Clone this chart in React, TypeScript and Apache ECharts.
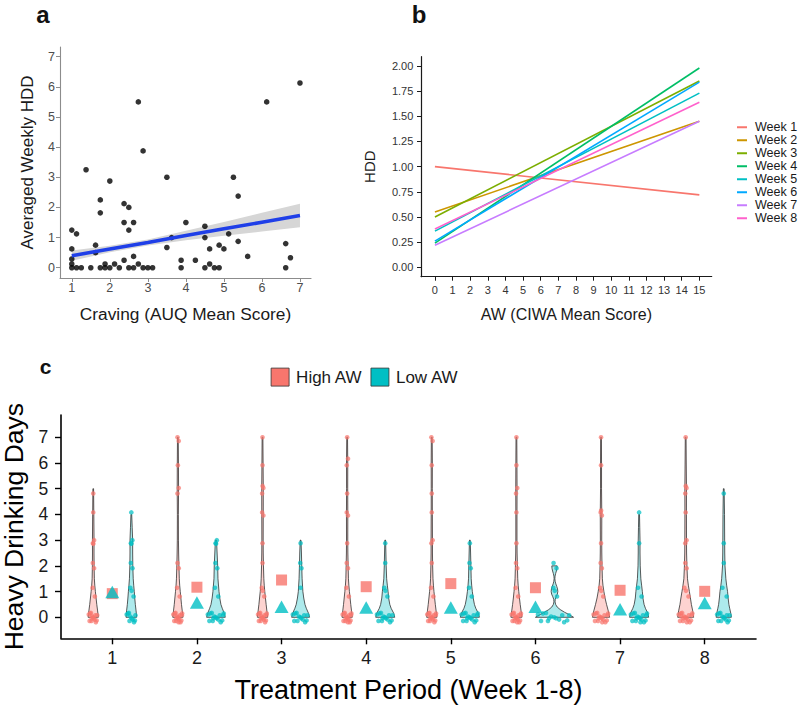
import React, { useEffect, useRef } from "react";
import * as echarts from "echarts";

const FONT = '"Liberation Sans", Arial, Helvetica, sans-serif';

// ---------- Panel a: craving vs averaged weekly HDD ----------
const cravingVsHDD: number[][] = [
  [1, 1.25], [1.125, 1.125], [1, 0.625], [1, 0.29], [1, 0.125], [1, 0], [1.125, 0], [1.25, 0],
  [1.5, 0], [1.375, 3.25], [1.625, 0.75], [1.625, 0.5], [1.75, 2.25], [1.75, 1.82], [1.75, 0],
  [1.875, 0.125], [1.875, 0], [2, 0], [2, 2.875], [2.125, 0.125], [2.25, 0], [2.375, 2.125],
  [2.5, 2], [2.375, 1.5], [2.625, 1.5], [2.5, 1.25], [2.375, 0.25], [2.625, 0.375], [2.75, 0.125],
  [2.5, 0], [2.625, 0], [2.75, 5.5], [2.875, 3.875], [2.875, 0], [3, 0], [3.125, 0], [3.5, 3],
  [3.5, 0.67], [3.625, 1], [3.875, 0.25], [3.875, 0], [4, 1.5], [4.25, 0.25], [4.5, 1.375],
  [4.5, 1], [4.5, 0], [4.625, 0.625], [4.625, 0.125], [4.75, 0], [4.875, 0], [4.875, 0.75],
  [5, 0.625], [5.125, 1.125], [5.25, 3], [5.375, 2.375], [5.375, 0.875], [5.625, 0.375],
  [6.125, 5.5], [6.625, 0.8], [6.625, 0], [6.75, 0.33], [7, 6.125],
];
const fitX = [1, 2, 3, 4, 5, 6, 7];
const fitY = [0.4, 0.62, 0.84, 1.07, 1.29, 1.51, 1.73];
const fitLower = [0.23, 0.51, 0.74, 0.91, 1.06, 1.2, 1.34];
const fitUpper = [0.57, 0.73, 0.94, 1.23, 1.52, 1.82, 2.12];
const axisATicksX = [1, 2, 3, 4, 5, 6, 7];
const axisATicksY = [0, 1, 2, 3, 4, 5, 6, 7];

// ---------- Panel b: HDD vs AW by week ----------
const weekNames = ["Week 1", "Week 2", "Week 3", "Week 4", "Week 5", "Week 6", "Week 7", "Week 8"];
const ciwaRange = [0, 15];
const hddAtAW0 = [1.0, 0.55, 0.5, 0.24, 0.36, 0.26, 0.22, 0.38];
const hddAtAW15 = [0.72, 1.45, 1.85, 1.98, 1.73, 1.84, 1.45, 1.64];
const axisBTicksX = [0, 1, 2, 3, 4, 5, 6, 7, 8, 9, 10, 11, 12, 13, 14, 15];
const axisBTicksY = [0, 0.25, 0.5, 0.75, 1, 1.25, 1.5, 1.75, 2];
const weekColors = ["#F8766D", "#CD9600", "#7CAE00", "#00BE67", "#00BFC4", "#00A9FF", "#C77CFF", "#FF61CC"];

// ---------- Panel c: violins of heavy drinking days ----------
const weeks = [1, 2, 3, 4, 5, 6, 7, 8];
// number of participants at HDD = 0,1,...,7
const highCounts = [
  [14, 2, 2, 3, 1, 1, 0, 0],
  [16, 2, 2, 0, 0, 2, 1, 2],
  [15, 3, 1, 1, 2, 3, 1, 1],
  [16, 2, 2, 1, 2, 1, 2, 1],
  [15, 2, 1, 2, 1, 1, 1, 2],
  [16, 2, 2, 1, 1, 2, 1, 1],
  [16, 3, 2, 1, 3, 0, 1, 1],
  [17, 3, 2, 2, 1, 3, 0, 1],
];
const lowCounts = [
  [10, 3, 2, 3, 1, 0, 0, 0],
  [15, 2, 2, 3, 0, 0, 0, 0],
  [13, 1, 2, 1, 0, 0, 0, 0],
  [14, 3, 1, 1, 0, 0, 0, 0],
  [15, 2, 2, 1, 0, 0, 0, 0],
  [14, 3, 2, 0, 0, 0, 0, 0],
  [16, 2, 0, 1, 1, 0, 0, 0],
  [13, 2, 1, 1, 0, 1, 0, 0],
];
const highMean = [0.92, 1.17, 1.45, 1.19, 1.31, 1.15, 1.05, 1.01];
const lowMean = [0.98, 0.58, 0.41, 0.38, 0.38, 0.41, 0.31, 0.56];
// violin outline: [HDD, relative density width]
const highViolin = [
  [[0, 0.27], [0.25, 0.23], [0.5, 0.185], [0.75, 0.148], [1, 0.112], [1.25, 0.08], [1.5, 0.058], [2, 0.045], [2.5, 0.04], [3, 0.042], [4, 0.03], [5, 0.018]],
  [[0, 0.27], [0.25, 0.23], [0.5, 0.19], [0.75, 0.158], [1, 0.125], [1.25, 0.095], [1.5, 0.075], [2, 0.055], [2.5, 0.04], [3, 0.03], [4, 0.026], [5, 0.036], [6, 0.03], [7, 0.02]],
  [[0, 0.27], [0.25, 0.23], [0.5, 0.19], [0.75, 0.155], [1, 0.12], [1.25, 0.09], [1.5, 0.07], [2, 0.05], [2.5, 0.038], [3, 0.034], [4, 0.038], [5, 0.04], [6, 0.03], [7, 0.02]],
  [[0, 0.27], [0.25, 0.23], [0.5, 0.19], [0.75, 0.155], [1, 0.12], [1.25, 0.09], [1.5, 0.068], [2, 0.052], [2.5, 0.038], [3, 0.033], [4, 0.036], [5, 0.03], [6, 0.032], [7, 0.02]],
  [[0, 0.27], [0.25, 0.228], [0.5, 0.186], [0.75, 0.15], [1, 0.115], [1.25, 0.086], [1.5, 0.064], [2, 0.046], [2.5, 0.036], [3, 0.036], [4, 0.03], [5, 0.028], [6, 0.03], [7, 0.022]],
  [[0, 0.29], [0.25, 0.245], [0.5, 0.2], [0.75, 0.16], [1, 0.125], [1.25, 0.092], [1.5, 0.07], [2, 0.052], [2.5, 0.036], [3, 0.03], [4, 0.03], [5, 0.034], [6, 0.028], [7, 0.02]],
  [[0, 0.45], [0.25, 0.38], [0.5, 0.29], [0.75, 0.21], [1, 0.15], [1.25, 0.1], [1.5, 0.07], [2, 0.052], [2.5, 0.04], [3, 0.036], [4, 0.04], [5, 0.026], [6, 0.026], [7, 0.02]],
  [[0, 0.42], [0.25, 0.37], [0.5, 0.3], [0.75, 0.25], [1, 0.195], [1.25, 0.14], [1.5, 0.095], [2, 0.065], [2.5, 0.048], [3, 0.044], [4, 0.04], [5, 0.042], [6, 0.03], [7, 0.02]],
];
const lowViolin = [
  [[0, 0.28], [0.25, 0.25], [0.5, 0.21], [0.75, 0.18], [1, 0.155], [1.25, 0.125], [1.5, 0.1], [2, 0.078], [2.5, 0.07], [3, 0.07], [3.5, 0.045], [4, 0.02]],
  [[0, 0.49], [0.15, 0.44], [0.35, 0.33], [0.5, 0.26], [0.75, 0.2], [1, 0.16], [1.5, 0.105], [2, 0.09], [2.5, 0.06], [3, 0.03]],
  [[0, 0.47], [0.15, 0.42], [0.35, 0.3], [0.5, 0.23], [0.75, 0.165], [1, 0.12], [1.5, 0.08], [2, 0.06], [2.5, 0.045], [3, 0.02]],
  [[0, 0.5], [0.15, 0.45], [0.35, 0.31], [0.5, 0.24], [0.75, 0.18], [1, 0.15], [1.25, 0.11], [1.5, 0.075], [2, 0.05], [2.5, 0.035], [3, 0.02]],
  [[0, 0.5], [0.15, 0.45], [0.35, 0.31], [0.5, 0.24], [0.75, 0.175], [1, 0.13], [1.25, 0.095], [1.5, 0.07], [2, 0.055], [2.5, 0.038], [3, 0.02]],
  [[0, 1], [0.1, 0.78], [0.2, 0.52], [0.3, 0.3], [0.4, 0.14], [0.5, 0.06], [0.6, 0.03], [0.7, 0.04], [0.8, 0.09], [0.9, 0.15], [1, 0.175], [1.1, 0.16], [1.2, 0.12], [1.3, 0.07], [1.4, 0.035], [1.5, 0.02], [1.6, 0.03], [1.7, 0.06], [1.8, 0.1], [1.9, 0.13], [2, 0.14]],
  [[0, 0.5], [0.15, 0.46], [0.35, 0.33], [0.5, 0.26], [0.75, 0.2], [1, 0.17], [1.25, 0.13], [1.5, 0.09], [2, 0.058], [2.5, 0.047], [3, 0.047], [3.5, 0.033], [4, 0.02]],
  [[0, 0.4], [0.15, 0.37], [0.35, 0.31], [0.5, 0.27], [0.75, 0.23], [1, 0.2], [1.25, 0.15], [1.5, 0.11], [2, 0.065], [2.5, 0.052], [3, 0.048], [4, 0.04], [5, 0.02]],
];
const axisCTicksY = [0, 1, 2, 3, 4, 5, 6, 7];

// ---------- helpers ----------
const HALF = 0.225; // half of a dodged violin's width (category units)
const DODGE = 0.225;
const JIT = [-0.14, 0.08, -0.04, 0.15, -0.19, 0.03, 0.11, -0.09, 0.17, -0.12, 0.0];

function widthAt(profile: number[][], y: number) {
  if (y <= profile[0][0]) return profile[0][1];
  for (let i = 1; i < profile.length; i++) {
    const [y1, w1] = profile[i];
    const [y0, w0] = profile[i - 1];
    if (y <= y1) return w0 + ((w1 - w0) * (y - y0)) / (y1 - y0);
  }
  return profile[profile.length - 1][1];
}

function buildPoints(counts: number[][], profiles: number[][][], offset: number) {
  const out: number[][] = [];
  weeks.forEach((wk, i) => {
    const c = wk + offset;
    counts[i].forEach((k, v) => {
      const hw = Math.max(widthAt(profiles[i], v) * HALF * 0.9, 0.012);
      for (let j = 0; j < k; j++) {
        const u = k === 1 ? 0 : (((j + 0.5) * 0.618034) % 1) * 2 - 1;
        const dy = JIT[(j + v * 3) % JIT.length];
        out.push([c + u * hw, v + dy]);
      }
    });
  });
  return out;
}

function violinSeries(name: string, profiles: number[][][], offset: number, fill: string) {
  return {
    type: "custom",
    name,
    xAxisIndex: 2,
    yAxisIndex: 2,
    silent: true,
    z: 2,
    itemStyle: { color: fill },
    data: weeks.map((w) => [w, 0]),
    encode: { x: 0, y: 1 },
    renderItem: (params: any, api: any) => {
      const prof = profiles[params.dataIndex];
      const c = api.value(0) + offset;
      const left = prof.map(([y, w]) => api.coord([c - w * HALF, y]));
      const right = prof
        .slice()
        .reverse()
        .map(([y, w]) => api.coord([c + w * HALF, y]));
      return {
        type: "polygon",
        shape: { points: left.concat(right) },
        style: { fill, stroke: "#262626", lineWidth: 0.75 },
      };
    },
  };
}

export default function App() {
  const ref = useRef<HTMLDivElement>(null);

  useEffect(() => {
    if (!ref.current) return;
    const chart = echarts.init(ref.current, undefined, { renderer: "svg" });

    const tickLabel = (size: number, color: string, margin: number, values: number[], fmt?: any) => ({
      customValues: values,
      fontSize: size,
      color,
      margin,
      fontFamily: FONT,
      ...(fmt ? { formatter: fmt } : {}),
    });

    const option: any = {
      animation: false,
      textStyle: { fontFamily: FONT },
      grid: [
        { left: 60, top: 47, width: 251, height: 231, containLabel: false, outerBoundsMode: "none" },
        { left: 421, top: 56.7, width: 290.7, height: 220, containLabel: false, outerBoundsMode: "none" },
        { left: 61, top: 415, width: 695, height: 223.3, containLabel: false, outerBoundsMode: "none" },
      ],
      xAxis: [
        {
          gridIndex: 0,
          type: "value",
          min: 0.69,
          max: 7.29,
          axisLine: { show: true, onZero: false, lineStyle: { color: "#8c8c8c", width: 1.1 } },
          axisTick: { show: true, length: 4, customValues: axisATicksX, lineStyle: { color: "#8c8c8c" } },
          axisLabel: tickLabel(12.5, "#4d4d4d", 3.5, axisATicksX),
          splitLine: { show: false },
          name: "Craving (AUQ Mean Score)",
          nameLocation: "middle",
          nameGap: 27,
          nameTextStyle: { fontSize: 17.3, color: "#1a1a1a", fontFamily: FONT },
        },
        {
          gridIndex: 1,
          type: "value",
          min: -0.79,
          max: 15.7,
          axisLine: { show: true, onZero: false, lineStyle: { color: "#1a1a1a", width: 1.2 } },
          axisTick: { show: true, length: 4, customValues: axisBTicksX, lineStyle: { color: "#1a1a1a" } },
          axisLabel: tickLabel(11, "#333333", 7.5, axisBTicksX),
          splitLine: { show: false },
          name: "AW (CIWA Mean Score)",
          nameLocation: "middle",
          nameGap: 30,
          nameTextStyle: { fontSize: 16, color: "#1a1a1a", fontFamily: FONT },
        },
        {
          gridIndex: 2,
          type: "value",
          min: 0.394,
          max: 8.606,
          axisLine: { show: true, onZero: false, lineStyle: { color: "#000", width: 1.6 } },
          axisTick: { show: true, length: 6, customValues: weeks, lineStyle: { color: "#000", width: 1.4 } },
          axisLabel: tickLabel(18, "#1a1a1a", 11, weeks),
          splitLine: { show: false },
          name: "Treatment Period (Week 1-8)",
          nameLocation: "middle",
          nameGap: 38.5,
          nameTextStyle: { fontSize: 27, color: "#000", fontFamily: FONT },
        },
      ],
      yAxis: [
        {
          gridIndex: 0,
          type: "value",
          min: -0.34,
          max: 7.32,
          axisLine: { show: true, onZero: false, lineStyle: { color: "#8c8c8c", width: 1.1 } },
          axisTick: { show: true, length: 4, customValues: axisATicksY, lineStyle: { color: "#8c8c8c" } },
          axisLabel: tickLabel(12.5, "#4d4d4d", 5, axisATicksY),
          splitLine: { show: false },
          name: "Averaged Weekly HDD",
          nameLocation: "middle",
          nameGap: 24.5,
          nameTextStyle: { fontSize: 17, color: "#1a1a1a", fontFamily: FONT },
        },
        {
          gridIndex: 1,
          type: "value",
          min: -0.093,
          max: 2.092,
          axisLine: { show: true, onZero: false, lineStyle: { color: "#1a1a1a", width: 1.2 } },
          axisTick: { show: true, length: 4, customValues: axisBTicksY, lineStyle: { color: "#1a1a1a" } },
          axisLabel: tickLabel(11, "#333333", 7.7, axisBTicksY, (v: number) => v.toFixed(2)),
          splitLine: { show: false },
          name: "HDD",
          nameLocation: "middle",
          nameGap: 44.5,
          nameTextStyle: { fontSize: 15, color: "#1a1a1a", fontFamily: FONT },
        },
        {
          gridIndex: 2,
          type: "value",
          min: -0.817,
          max: 7.867,
          axisLine: { show: true, onZero: false, lineStyle: { color: "#000", width: 1.6 } },
          axisTick: { show: true, length: 6, customValues: axisCTicksY, lineStyle: { color: "#000", width: 1.4 } },
          axisLabel: tickLabel(17.5, "#1a1a1a", 12.7, axisCTicksY),
          splitLine: { show: false },
          name: "Heavy Drinking Days",
          nameLocation: "middle",
          nameGap: 34,
          nameTextStyle: { fontSize: 26.5, color: "#000", fontFamily: FONT },
        },
      ],
      legend: [
        {
          data: weekNames,
          orient: "vertical",
          left: 737,
          top: 120.75,
          padding: 0,
          itemWidth: 10,
          itemHeight: 2,
          itemGap: 0,
          icon: "rect",
          selectedMode: false,
          textStyle: { fontSize: 12.5, lineHeight: 12.5, color: "#1a1a1a", fontFamily: FONT, padding: [0, 0, 0, 3] },
        },
        {
          data: [
            { name: "High AW", itemStyle: { color: "#F8766D", borderColor: "#333", borderWidth: 0.8 } },
            { name: "Low AW", itemStyle: { color: "#00BFC4", borderColor: "#333", borderWidth: 0.8 } },
          ],
          orient: "horizontal",
          left: 270.7,
          top: 367.7,
          padding: 0,
          itemWidth: 18,
          itemHeight: 18,
          itemGap: 8,
          icon: "rect",
          selectedMode: false,
          textStyle: { fontSize: 17, color: "#1a1a1a", fontFamily: FONT, padding: [0, 0, 0, 2] },
        },
      ],
      graphic: [
        { type: "text", x: 43, y: 14, style: { text: "a", fill: "#111", fontSize: 24, fontWeight: "bold", fontFamily: FONT, font: `bold 24px ${FONT}`, align: "center", verticalAlign: "middle", textAlign: "center", textVerticalAlign: "middle" } },
        { type: "text", x: 419, y: 14, style: { text: "b", fill: "#111", fontSize: 24, fontWeight: "bold", fontFamily: FONT, font: `bold 24px ${FONT}`, align: "center", verticalAlign: "middle", textAlign: "center", textVerticalAlign: "middle" } },
        { type: "text", x: 45.7, y: 366, style: { text: "c", fill: "#111", fontSize: 21, fontWeight: "bold", fontFamily: FONT, font: `bold 21px ${FONT}`, align: "center", verticalAlign: "middle", textAlign: "center", textVerticalAlign: "middle" } },
      ],
      series: [
        // panel a
        {
          type: "custom",
          name: "95% CI",
          xAxisIndex: 0,
          yAxisIndex: 0,
          silent: true,
          z: 1,
          data: [[fitX[0], fitY[0]]],
          renderItem: (_p: any, api: any) => {
            const up = fitX.map((x, i) => api.coord([x, fitUpper[i]]));
            const lo = fitX.map((x, i) => api.coord([x, fitLower[i]])).reverse();
            return { type: "polygon", shape: { points: up.concat(lo) }, style: { fill: "#d6d6d6", stroke: "none" } };
          },
        },
        {
          type: "scatter",
          name: "Participants",
          xAxisIndex: 0,
          yAxisIndex: 0,
          silent: true,
          z: 3,
          symbolSize: 5.6,
          itemStyle: { color: "#000" },
          data: cravingVsHDD,
        },
        {
          type: "line",
          name: "Linear fit",
          xAxisIndex: 0,
          yAxisIndex: 0,
          silent: true,
          z: 4,
          symbol: "none",
          lineStyle: { color: "#1f3fe8", width: 3.6 },
          data: fitX.map((x, i) => [x, fitY[i]]),
        },
        // panel b
        ...weekNames.map((name, i) => ({
          type: "line",
          name,
          xAxisIndex: 1,
          yAxisIndex: 1,
          silent: true,
          symbol: "none",
          color: weekColors[i],
          itemStyle: { color: weekColors[i] },
          lineStyle: { color: weekColors[i], width: 1.6 },
          data: [
            [ciwaRange[0], hddAtAW0[i]],
            [ciwaRange[1], hddAtAW15[i]],
          ],
        })),
        // panel c
        violinSeries("High AW", highViolin, -DODGE, "rgba(248,118,109,0.32)"),
        violinSeries("Low AW", lowViolin, DODGE, "rgba(0,191,196,0.32)"),
        {
          type: "scatter",
          name: "High AW",
          xAxisIndex: 2,
          yAxisIndex: 2,
          silent: true,
          z: 3,
          symbolSize: 4.6,
          itemStyle: { color: "#F8766D", opacity: 0.72 },
          data: buildPoints(highCounts, highViolin, -DODGE),
        },
        {
          type: "scatter",
          name: "Low AW",
          xAxisIndex: 2,
          yAxisIndex: 2,
          silent: true,
          z: 3,
          symbolSize: 4.6,
          itemStyle: { color: "#00BFC4", opacity: 0.72 },
          data: buildPoints(lowCounts, lowViolin, DODGE),
        },
        {
          type: "scatter",
          name: "High AW mean",
          xAxisIndex: 2,
          yAxisIndex: 2,
          silent: true,
          z: 4,
          symbol: "rect",
          symbolSize: 11,
          itemStyle: { color: "#F8766D" },
          data: weeks.map((w, i) => [w, highMean[i]]),
        },
        {
          type: "scatter",
          name: "Low AW mean",
          xAxisIndex: 2,
          yAxisIndex: 2,
          silent: true,
          z: 5,
          symbol: "triangle",
          symbolSize: [14, 12.5],
          itemStyle: { color: "#00BFC4" },
          data: weeks.map((w, i) => [w, lowMean[i]]),
        },
      ],
    };

    chart.setOption(option);
    return () => chart.dispose();
  }, []);

  return (
    <div
      ref={ref}
      style={{ position: "absolute", left: 0, top: 0, width: 800, height: 708, background: "#fff" }}
    />
  );
}
